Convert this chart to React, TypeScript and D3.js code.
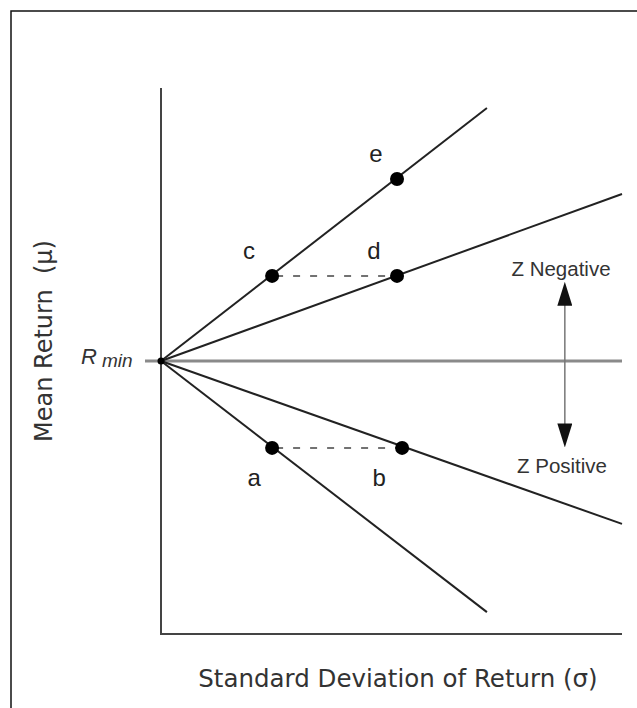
import React from 'react';
import * as d3 from 'd3';

// abstract units: sigma along x, mean return relative to R_min along y
const frontierLines = [
    { name: 'upperSteep', x: 70.7, y: 55.6 },
    { name: 'upperShallow', x: 100, y: 36.7 },
    { name: 'lowerShallow', x: 100, y: -35.8 },
    { name: 'lowerSteep', x: 70.7, y: -55.2 },
];
const pointNames = ['c', 'd', 'e', 'a', 'b'];
const pointX = [24.1, 51.2, 51.2, 24.1, 52.3];
const pointY = [18.7, 18.7, 40.0, -19.1, -19.1];
const labelOffsetX = [-23, -23, -21, -18, -23];
const labelOffsetY = [-17, -17, -17, 38, 38];
const dashedPairs = [['c', 'd'], ['a', 'b']];
const arrowX = 87.6;
const arrowTop = 16.0;
const arrowBottom = -17.6;

const width = 637;
const height = 708;

export default function App() {
    const x = d3.scaleLinear().domain([0, 100]).range([161, 622]);
    const y = d3.scaleLinear().domain([-60, 60]).range([634, 88]);

    const line = d3.line<[number, number]>()
        .x(d => x(d[0]))
        .y(d => y(d[1]));

    const pts: Record<string, [number, number]> = {};
    pointNames.forEach((n, i) => { pts[n] = [pointX[i], pointY[i]]; });

    const labelFont = '"Liberation Sans", Arial, sans-serif';
    const titleFont = '"DejaVu Sans", sans-serif';

    return (
        <svg width={width} height={height} style={{ position: 'absolute', left: 0, top: 0, background: '#fff' }}>
            <defs>
                <marker id="tri" viewBox="0 0 10 10" refX="4" refY="5" markerWidth="24" markerHeight="15"
                    orient="auto-start-reverse" markerUnits="userSpaceOnUse" preserveAspectRatio="none">
                    <path d="M0,0 L10,5 L0,10 Z" fill="#111" />
                </marker>
            </defs>
            {/* frame */}
            <path d={`M11,${height} L11,11 L${width},11`} fill="none" stroke="#111" strokeWidth={1.5} />

            {/* R_min line */}
            <line x1={x(0) - 16} x2={x(100)} y1={y(0)} y2={y(0)} stroke="#8a8a8a" strokeWidth={3} />

            {/* axes */}
            <path d={`M${x(0)},${y(60)} L${x(0)},${y(-60)} L${x(100)},${y(-60)}`} fill="none" stroke="#444" strokeWidth={2} />

            {frontierLines.map(l => (
                <path key={l.name} d={line([[0, 0], [l.x, l.y]]) || ''} fill="none" stroke="#222" strokeWidth={2} />
            ))}

            {dashedPairs.map(([p, q]) => (
                <path key={p + q} d={line([pts[p], pts[q]]) || ''} fill="none" stroke="#444"
                    strokeWidth={1.5} strokeDasharray="7,10" strokeDashoffset={-4} />
            ))}

            {/* Z arrow */}
            <line x1={x(arrowX)} x2={x(arrowX)} y1={y(arrowTop) + 8} y2={y(arrowBottom) - 8} stroke="#777" strokeWidth={1.5}
                markerStart="url(#tri)" markerEnd="url(#tri)" />

            <circle cx={x(0)} cy={y(0)} r={3.5} fill="#000" />
            {pointNames.map((n, i) => (
                <g key={n}>
                    <circle cx={x(pointX[i])} cy={y(pointY[i])} r={7} fill="#000" />
                    <text x={x(pointX[i]) + labelOffsetX[i]} y={y(pointY[i]) + labelOffsetY[i]}
                        fontFamily={labelFont} fontSize={24} fill="#222" textAnchor="middle">{n}</text>
                </g>
            ))}

            <text x={561} y={276} fontFamily={labelFont} fontSize={20.5} fill="#333" textAnchor="middle">Z Negative</text>
            <text x={562} y={473} fontFamily={labelFont} fontSize={20.5} fill="#333" textAnchor="middle">Z Positive</text>

            <text x={81} y={364} fontFamily={labelFont} fontSize={22} fontStyle="italic" fill="#333">R</text>
            <text x={102} y={367} fontFamily={labelFont} fontSize={19} fontStyle="italic" fill="#333">min</text>

            <text x={398} y={687} fontFamily={titleFont} fontSize={24.5} fill="#333" textAnchor="middle">
                Standard Deviation of Return (σ)
            </text>
            <text transform={`translate(52,341) rotate(-90)`} fontFamily={titleFont} fontSize={24} fill="#333"
                textAnchor="middle" xmlSpace="preserve">Mean Return  (μ)</text>
        </svg>
    );
}
